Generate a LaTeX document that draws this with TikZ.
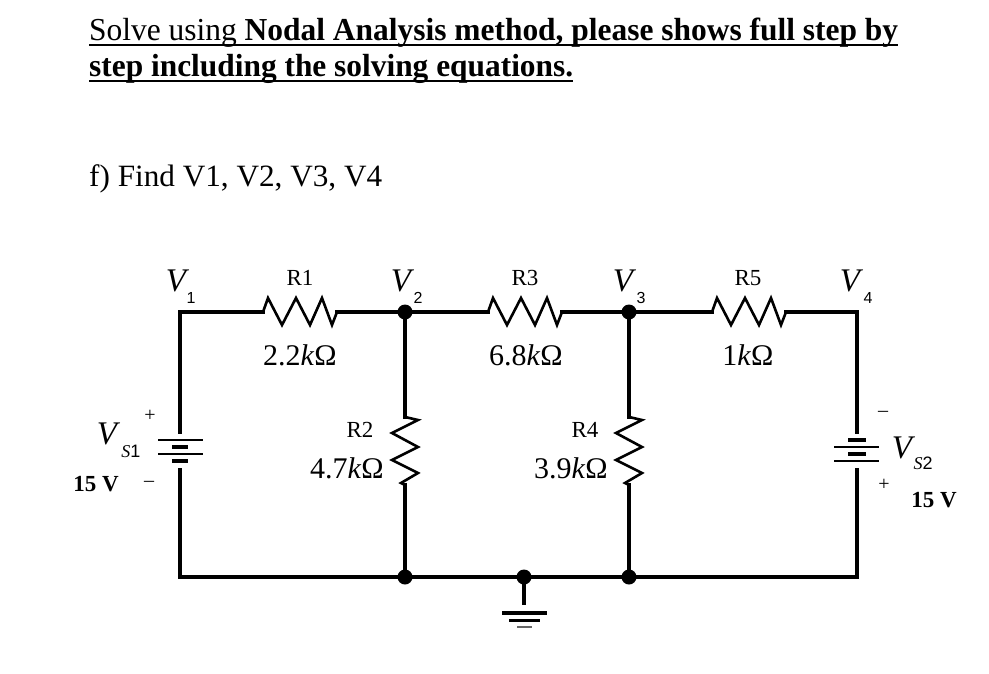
\documentclass[tikz,border=0pt]{standalone}
\usepackage{fontspec}
\setmainfont{Liberation Serif}
\newfontfamily\subsans{Liberation Sans}
\usepackage{graphicx}
\tikzset{
  wire/.style={line width=3.2pt, line cap=rect},
  zig/.style={line width=2.6pt, line join=miter},
  dotnode/.style={circle, fill=black, inner sep=0pt, minimum size=15pt},
  rlab/.style={inner sep=0pt, font=\fontsize{23}{25}\selectfont},
  vlab/.style={inner sep=0pt, font=\fontsize{30}{32}\selectfont},
  nodev/.style={inner sep=0pt, font=\fontsize{33}{35}\selectfont\itshape},
  subdig/.style={inner sep=0pt, font=\fontsize{16}{18}\subsans},
  sign/.style={inner sep=0pt, font=\fontsize{20}{22}\selectfont},
  boldv/.style={inner sep=0pt, font=\fontsize{23}{25}\selectfont\bfseries},
  titletext/.style={anchor=base west, inner sep=0pt, font=\fontsize{32}{36}\selectfont},
  hzig/.pic={\draw[zig] (0,0) -- (5,-14) -- (19,13) -- (33,-14) -- (47,13) -- (59,-14) -- (69,13) -- (74,0);},
  vzig/.pic={\draw[zig] (0,0) -- (13,3) -- (-13,16) -- (13,30) -- (-13,43) -- (13,56) -- (-4,66) -- (0,68);},
  longplate/.style={line width=2pt},
  shortplate/.style={line width=4.5pt}
}
\begin{document}
\begin{tikzpicture}[x=1pt,y=-1pt]
\fill[white] (0,0) rectangle (989,673);
\useasboundingbox (0,0) rectangle (989,673);

% title
\node[titletext] (t1) at (89,40)
  {\resizebox{809pt}{\height}{Solve using \textbf{Nodal Analysis method, please shows full step by}}};
\draw[line width=2.4pt] ([yshift=-5pt]t1.base west) -- ([yshift=-5pt]t1.base east);
\node[titletext] (t2) at (89,76)
  {\resizebox{484pt}{\height}{\textbf{step including the solving equations.}}};
\draw[line width=2.4pt] ([yshift=-5pt]t2.base west) -- ([yshift=-5pt]t2.base east);
\node[titletext, font=\fontsize{31}{35}\selectfont] (t3) at (89,186)
  {\resizebox{293pt}{\height}{f) Find V1, V2, V3, V4}};

% circuit corners and nodes
\coordinate (n1) at (180,312);
\node[dotnode] (n2) at (405,312) {};
\node[dotnode] (n3) at (629,312) {};
\coordinate (n4) at (857,312);
\coordinate (b1) at (180,577);
\node[dotnode] (g2) at (405,577) {};
\node[dotnode] (gnd) at (524,577) {};
\node[dotnode] (g3) at (629,577) {};
\coordinate (b4) at (857,577);

% resistor ends
\coordinate (r1a) at (263,312); \coordinate (r1b) at (337,312);
\coordinate (r3a) at (488,312); \coordinate (r3b) at (562,312);
\coordinate (r5a) at (712,312); \coordinate (r5b) at (786,312);
\coordinate (r2a) at (405,417); \coordinate (r2b) at (405,485);
\coordinate (r4a) at (629,417); \coordinate (r4b) at (629,485);

% battery ends
\coordinate (s1a) at (180,432); \coordinate (s1b) at (180,470);
\coordinate (s2a) at (857,432); \coordinate (s2b) at (857,470);

% wires
\draw[wire] (s1a) -- (n1) -- (r1a);
\draw[wire] (r1b) -- (n2.center) -- (r3a);
\draw[wire] (r3b) -- (n3.center) -- (r5a);
\draw[wire] (r5b) -- (n4) -- (s2a);
\draw[wire] (n2.center) -- (r2a);
\draw[wire] (r2b) -- (g2.center);
\draw[wire] (n3.center) -- (r4a);
\draw[wire] (r4b) -- (g3.center);
\draw[wire] (s1b) -- (b1) -- (b4) -- (s2b);

% resistors
\pic at (r1a) {hzig};
\pic at (r3a) {hzig};
\pic at (r5a) {hzig};
\pic at (r2a) {vzig};
\pic at (r4a) {vzig};

% battery 1
\draw[longplate] (158,440) -- (203,440);
\draw[shortplate] (172,447) -- (188,447);
\draw[longplate] (158,454) -- (203,454);
\draw[shortplate] (172,461) -- (188,461);
% battery 2
\draw[shortplate] (848,440) -- (866,440);
\draw[longplate] (834,447) -- (879,447);
\draw[shortplate] (848,454) -- (866,454);
\draw[longplate] (834,461) -- (879,461);

% ground
\coordinate (gs) at (524,605);
\draw[wire, line cap=butt] (gnd.center) -- (gs);
\draw[line width=4pt] (502,613) -- (547,613);
\draw[line width=3pt] (509,620) -- (540,620);
\draw[line width=2pt, black!60] (517,627) -- (532,627);

% labels
\node[rlab] (lr1) at (300,278) {R1};
\node[rlab] (lr3) at (525,278) {R3};
\node[rlab] (lr5) at (748,278) {R5};
\node[vlab] (vr1) at (300,355) {2.2\textit{k}Ω};
\node[vlab] (vr3) at (526,355) {6.8\textit{k}Ω};
\node[vlab] (vr5) at (748,355) {1\textit{k}Ω};
\node[rlab] (lr2) at (360,430) {R2};
\node[vlab] (vr2) at (347,468) {4.7\textit{k}Ω};
\node[rlab] (lr4) at (585,430) {R4};
\node[vlab] (vr4) at (571,468) {3.9\textit{k}Ω};

\node[nodev] (v1) at (176,281) {V};
\node[subdig] (v1s) at (191,298) {1};
\node[nodev] (v2) at (401,281) {V};
\node[subdig] (v2s) at (418,298) {2};
\node[nodev] (v3) at (623,281) {V};
\node[subdig] (v3s) at (641,298) {3};
\node[nodev] (v4) at (850,281) {V};
\node[subdig] (v4s) at (868,298) {4};

\node[nodev] (vs1) at (107,434) {V};
\node[inner sep=0pt, font=\fontsize{18}{20}\selectfont] (vs1s) at (131,451) {\textit{S}\subsans 1};
\node[sign] (p1) at (150,416) {+};
\node[sign] (m1) at (149,484) {\textendash};
\node[boldv] (e1) at (96,484) {15 V};

\node[nodev] (vs2) at (902,448) {V};
\node[inner sep=0pt, font=\fontsize{18}{20}\selectfont] (vs2s) at (923,463) {\textit{S}\subsans 2};
\node[sign] (m2) at (883,414) {\textendash};
\node[sign] (p2) at (884,485) {+};
\node[boldv] (e2) at (934,500) {15 V};
\end{tikzpicture}
\end{document}
